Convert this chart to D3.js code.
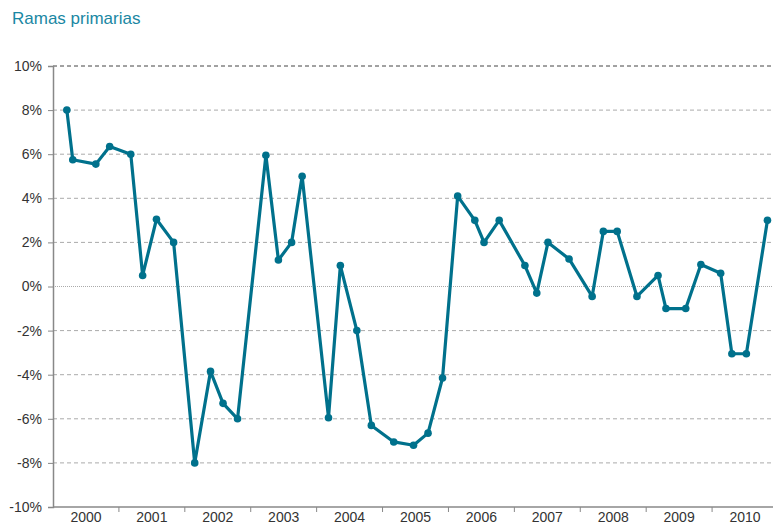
<!DOCTYPE html>
<html>
<head>
<meta charset="utf-8">
<script src="https://cdn.jsdelivr.net/npm/d3@7"></script>
<style>
  body { margin: 0; background: #fff; }
  svg { display: block; font-family: "Liberation Sans", Arial, sans-serif; }
</style>
</head>
<body>
<script>
// data: fractional year position of each observation and its value (%)
var dates = [2000.21, 2000.30, 2000.65, 2000.86, 2001.18, 2001.36, 2001.57, 2001.83,
             2002.15, 2002.39, 2002.58, 2002.80, 2003.23, 2003.42, 2003.62, 2003.78,
             2004.18, 2004.36, 2004.61, 2004.83, 2005.17, 2005.47, 2005.69, 2005.91,
             2006.14, 2006.40, 2006.54, 2006.77, 2007.16, 2007.34, 2007.51, 2007.83,
             2008.18, 2008.35, 2008.56, 2008.86, 2009.18, 2009.30, 2009.60, 2009.83,
             2010.13, 2010.30, 2010.52, 2010.84];
var values = [8.0, 5.75, 5.55, 6.35, 6.0, 0.5, 3.05, 2.0,
              -8.0, -3.85, -5.3, -6.0, 5.95, 1.2, 2.0, 5.0,
              -5.95, 0.95, -2.0, -6.3, -7.05, -7.2, -6.65, -4.15,
              4.1, 3.0, 2.0, 3.0, 0.95, -0.3, 2.0, 1.25,
              -0.45, 2.5, 2.5, -0.45, 0.5, -1.0, -1.0, 1.0,
              0.6, -3.05, -3.05, 3.0];
var years = [2000, 2001, 2002, 2003, 2004, 2005, 2006, 2007, 2008, 2009, 2010];
var yTicks = [-10, -8, -6, -4, -2, 0, 2, 4, 6, 8, 10];

var width = 773, height = 524;
var margin = {top: 66, right: -5, bottom: 17, left: 53};

var svg = d3.select("body").append("svg")
    .attr("width", width)
    .attr("height", height);

var x = d3.scaleLinear()
    .domain([2000, 2011])
    .range([margin.left, width - margin.right]);

var y = d3.scaleLinear()
    .domain([-10, 10])
    .range([height - margin.bottom, margin.top]);

// title
svg.append("text")
    .attr("x", 12)
    .attr("y", 24)
    .attr("fill", "#1a87a3")
    .style("font-size", "17px")
    .text("Ramas primarias");

// gridlines
svg.append("g").selectAll("line")
    .data(yTicks.filter(function(d) { return d != -10; }))
    .enter().append("line")
    .attr("x1", margin.left)
    .attr("x2", width)
    .attr("y1", function(d) { return y(d); })
    .attr("y2", function(d) { return y(d); })
    .attr("stroke", function(d) { return d == 10 ? "#444" : "#aaa"; })
    .attr("stroke-width", 1)
    .attr("stroke-dasharray", function(d) { return d == 0 ? "1,1" : "4,3"; });

// y axis
var yAxis = d3.axisLeft(y)
    .tickValues(yTicks)
    .tickSize(5)
    .tickPadding(6)
    .tickFormat(function(d) { return d + "%"; });

var gy = svg.append("g")
    .attr("transform", "translate(" + margin.left + ",0)")
    .call(yAxis);
gy.select(".domain").attr("stroke", "#888").attr("stroke-width", 1.5);
gy.selectAll(".tick line").attr("stroke", "#888");
gy.selectAll(".tick text")
    .attr("fill", "#333")
    .style("font-size", "14px")
    .style("font-family", "Liberation Sans, Arial, sans-serif");

// x axis: ticks at year boundaries, labels in the middle of each year
var gx = svg.append("g")
    .attr("transform", "translate(0," + y(-10) + ")");
gx.append("line")
    .attr("x1", margin.left)
    .attr("x2", width)
    .attr("stroke", "#888")
    .attr("stroke-width", 1.5);
gx.selectAll(".yt")
    .data(years.slice(1))
    .enter().append("line")
    .attr("class", "yt")
    .attr("x1", function(d) { return x(d); })
    .attr("x2", function(d) { return x(d); })
    .attr("y1", 0)
    .attr("y2", 5)
    .attr("stroke", "#888");
gx.selectAll("text")
    .data(years)
    .enter().append("text")
    .attr("x", function(d) { return x(d + 0.5); })
    .attr("y", 15)
    .attr("text-anchor", "middle")
    .attr("fill", "#333")
    .style("font-size", "14px")
    .text(function(d) { return d; });

// series
var pts = dates.map(function(d, i) { return {date: d, value: values[i]}; });

var line = d3.line()
    .x(function(d) { return x(d.date); })
    .y(function(d) { return y(d.value); });

svg.append("path")
    .datum(pts)
    .attr("d", line)
    .attr("fill", "none")
    .attr("stroke", "#00718c")
    .attr("stroke-width", 3.2)
    .attr("stroke-linejoin", "round");

svg.append("g").selectAll("circle")
    .data(pts)
    .enter().append("circle")
    .attr("cx", function(d) { return x(d.date); })
    .attr("cy", function(d) { return y(d.value); })
    .attr("r", 3.8)
    .attr("fill", "#00718c");
</script>
</body>
</html>
